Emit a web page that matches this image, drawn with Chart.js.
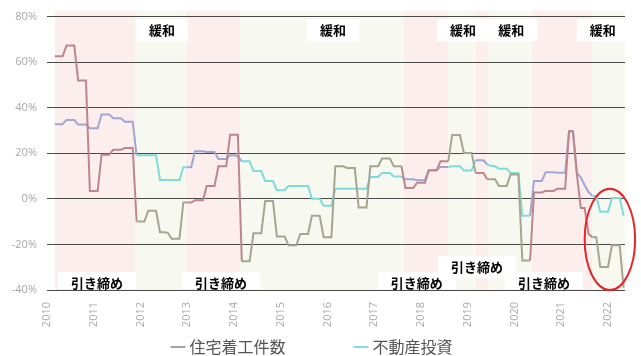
<!DOCTYPE html>
<html><head><meta charset="utf-8">
<script src="https://cdn.jsdelivr.net/npm/chart.js@4/dist/chart.umd.min.js"></script>
<style>html,body{margin:0;padding:0;background:#fff;}#wrap{width:641px;height:356px;}</style>
</head><body><div id="wrap"><canvas id="c" width="641" height="356"></canvas></div>
<script>
// Monthly YoY (%) from 2010-03 to 2022-05
const startYear = 2010, startMonth = 3;
const housingStarts = [
  62.6,62.6,62.6, 67.3,67.3,67.3, 52.0,52.0,52.0, 3.5,3.5,3.5,
  19.4,19.4,19.4, 21.6,21.6,21.6, 22.3,22.3,22.3, -9.9,-9.9,-9.9,
  -5.2,-5.2,-5.2, -14.6,-14.6,-14.9, -17.5,-17.5,-17.5, -1.6,-1.6,-1.6,
  -0.6,-0.6,-0.6, 5.7,5.7,5.7, 14.3,14.3,14.3, 28.1,28.1,28.1,
  -27.4,-27.4,-27.4, -15.1,-15.1,-15.1, -0.9,-0.9,-0.9, -16.5,-16.5,-16.5,
  -20.4,-20.4,-20.4, -15.4,-15.4,-15.4, -7.4,-7.4,-7.4, -16.8,-16.8,-16.8,
  14.3,14.3,14.3, 13.6,13.6,13.6, -3.8,-3.8,-3.8, 14.3,14.3,14.3,
  17.7,17.7,17.7, 14.3,14.3,14.3, 4.8,4.8,4.8, 7.1,7.1,7.1,
  12.5,12.5,12.5, 16.5,16.5,16.5, 28.0,28.0,28.0, 20.1,20.1,20.1,
  11.4,11.4,11.4, 8.6,8.6,8.6, 5.7,5.7,5.7, 10.7,10.7,10.7,
  -27.0,-27.0,-27.0, 2.8,2.8,2.8, 3.5,3.5,3.5, 4.4,4.4,4.4,
  29.7,29.7,11.0, -4.0,-4.0,-15.4, -16.8,-16.8,-29.9, -29.9,-29.9,-20.4,
  -20.4,-20.4,-39.0
];
const realEstateInvestment = [
  32.8,32.8,32.8, 34.6,34.6,34.6, 32.6,32.6,32.6, 31.0,31.0,31.0,
  37.0,37.0,37.0, 35.4,35.4,35.4, 33.9,33.9,33.9, 19.1,19.1,19.1,
  19.1,19.1,19.1, 8.3,8.3,8.3, 8.3,8.3,8.3, 13.9,13.9,13.9,
  20.9,20.9,20.9, 20.6,20.6,20.6, 17.5,17.5,17.5, 19.1,19.1,18.7,
  16.5,16.5,16.5, 12.2,12.2,12.2, 7.8,7.8,7.8, 3.8,3.8,3.8,
  5.7,5.7,5.7, 5.7,5.7,5.7, 0.0,0.0,0.0, -3.0,-3.0,-3.0,
  4.4,4.4,4.4, 4.4,4.4,4.4, 4.4,4.4,4.4, 9.6,9.6,9.6,
  11.4,11.4,11.4, 9.8,9.8,9.8, 8.6,8.6,8.6, 8.2,8.2,8.2,
  12.7,12.7,12.7, 14.0,14.0,14.0, 14.3,14.3,14.3, 12.5,12.5,12.5,
  16.9,16.9,16.9, 15.1,14.5,14.3, 13.2,13.2,13.2, 11.4,11.4,11.4,
  -7.4,-7.4,-7.4, 7.8,7.8,7.8, 11.7,11.7,11.7, 11.5,11.5,11.5,
  29.7,29.7,11.4, 9.5,6.0,3.0, 1.3,1.3,-5.6, -5.6,-5.6,0.4,
  0.4,0.4,-7.4
];
const seriesNames = ['住宅着工件数', '不動産投資'];
const yTicks = [-40, -20, 0, 20, 40, 60, 80];
const xYears = [2010,2011,2012,2013,2014,2015,2016,2017,2018,2019,2020,2021,2022];
// policy periods (fractional years)
const tighteningPeriods = [[2010.17,2011.88],[2012.97,2014.13],[2017.62,2018.58],[2019.16,2019.43],[2020.37,2021.66]];
const easingPeriods = [[2011.88,2012.97],[2014.13,2017.62],[2018.58,2019.16],[2019.43,2020.37],[2021.66,2022.36]];
const easingLabelX = [2012.46, 2016.12, 2018.90, 2019.93, 2021.89];
const easingLabelY = [74, 74, 74, 74, 74];
const tightLabelX = [2011.07, 2013.72, 2017.91, 2019.20, 2020.63];
const tightLabelY = [-37, -37, -37, -30, -37];
const highlight = {x: 2022.04, y: -17.8, rx: 0.54, ry: 22.2};

// month categories -> fractional years
const months = housingStarts.map((_, i) => {
  const t = (startMonth - 1) + i;
  return (startYear + Math.floor(t / 12)) + '-' + String(t % 12 + 1).padStart(2, '0');
});
const toYear = s => { const [y, m] = s.split('-').map(Number); return y + (m - 1) / 12; };
const xs = months.map(toYear);
const xMax = xs[xs.length - 1] + 0.03;

const inTight = v => tighteningPeriods.some(([a, b]) => v >= a && v < b);
const segColor = (normal, tinted) => ctx => {
  const mid = (ctx.p0.parsed.x + ctx.p1.parsed.x) / 2;
  return inTight(mid) ? tinted : normal;
};

const JP = '"Noto Sans CJK JP", "Noto Sans", sans-serif';

const bgPlugin = {
  id: 'bg',
  beforeDraw(chart) {
    const {ctx, chartArea, scales} = chart;
    const x = scales.x;
    ctx.save();
    const fill = (periods, color) => {
      ctx.fillStyle = color;
      periods.forEach(([a, b]) => {
        const l = x.getPixelForValue(a), r = x.getPixelForValue(b);
        ctx.fillRect(l, chartArea.top - 6, r - l, chartArea.bottom - chartArea.top + 6);
      });
    };
    fill(tighteningPeriods, '#fdeeee');
    fill(easingPeriods, '#f7f9f0');
    ctx.restore();
  }
};

const notePlugin = {
  id: 'notes',
  afterDatasetsDraw(chart) {
    const {ctx, chartArea, scales} = chart;
    const x = scales.x, y = scales.y;
    ctx.save();
    ctx.font = 'bold 13px ' + JP;
    ctx.textAlign = 'center';
    ctx.textBaseline = 'middle';
    const draw = (text, xv, yv) => {
      const px = x.getPixelForValue(xv), py = y.getPixelForValue(yv);
      const w = ctx.measureText(text).width + 26;
      let top = py - 11, bot = Math.min(py + 11, chartArea.bottom - 1);
      ctx.fillStyle = '#ffffff';
      ctx.fillRect(px - w / 2, top, w, bot - top);
      ctx.fillStyle = '#000000';
      ctx.fillText(text, px, py);
    };
    easingLabelX.forEach((v, i) => draw('緩和', v, easingLabelY[i]));
    tightLabelX.forEach((v, i) => draw('引き締め', v, tightLabelY[i]));
    // highlight ellipse
    const cx = x.getPixelForValue(highlight.x), cy = y.getPixelForValue(highlight.y);
    const rx = Math.abs(x.getPixelForValue(highlight.x + highlight.rx) - cx);
    const ry = Math.abs(y.getPixelForValue(highlight.y + highlight.ry) - cy);
    ctx.beginPath();
    ctx.ellipse(cx, cy, rx, ry, 0, 0, Math.PI * 2);
    ctx.strokeStyle = '#e3262b';
    ctx.lineWidth = 2;
    ctx.stroke();
    ctx.restore();
  }
};

const legendPlugin = {
  id: 'customLegend',
  afterDraw(chart) {
    const {ctx, width} = chart;
    ctx.save();
    ctx.font = '16px ' + JP;
    ctx.textBaseline = 'middle';
    ctx.textAlign = 'left';
    const dash = 15, gap = 4, itemGap = 68;
    const colors = ['#a3a3a3', '#86d9e6'];
    const widths = seriesNames.map(n => ctx.measureText(n).width);
    const total = widths.reduce((s, w) => s + dash + gap + w, 0) + itemGap * (seriesNames.length - 1);
    let px = width / 2 - 9 - total / 2;
    const py = 347;
    seriesNames.forEach((n, i) => {
      ctx.strokeStyle = colors[i];
      ctx.lineWidth = 2;
      ctx.beginPath();
      ctx.moveTo(px, py); ctx.lineTo(px + dash, py);
      ctx.stroke();
      ctx.fillStyle = '#555555';
      ctx.fillText(n, px + dash + gap, py);
      px += dash + gap + widths[i] + itemGap;
    });
    ctx.restore();
  }
};

new Chart(document.getElementById('c'), {
  type: 'line',
  data: {
    datasets: [
      {
        label: seriesNames[0],
        data: xs.map((v, i) => ({x: v, y: housingStarts[i]})),
        borderColor: '#a6a592',
        borderWidth: 2,
        pointRadius: 0,
        tension: 0,
        segment: {borderColor: segColor('#a6a592', '#bd868c')}
      },
      {
        label: seriesNames[1],
        data: xs.map((v, i) => ({x: v, y: realEstateInvestment[i]})),
        borderColor: '#7fdbdb',
        borderWidth: 2,
        pointRadius: 0,
        tension: 0,
        segment: {borderColor: segColor('#7fdbdb', '#9ea6d4')}
      }
    ]
  },
  options: {
    responsive: false,
    animation: false,
    devicePixelRatio: 1,
    layout: {padding: {top: 14, right: 16, bottom: 24, left: 0}},
    plugins: {legend: {display: false}, tooltip: {enabled: false}},
    scales: {
      x: {
        type: 'linear',
        min: startYear,
        max: xMax,
        afterBuildTicks: s => { s.ticks = xYears.map(v => ({value: v})); },
        afterFit: s => { s.height = 42; },
        grid: {display: false},
        border: {display: false},
        ticks: {
          callback: v => String(v),
          minRotation: 90, maxRotation: 90,
          color: '#a8a8a8',
          padding: 4,
          font: {size: 11, family: '"Open Sans", sans-serif'}
        }
      },
      y: {
        min: -40, max: 80,
        afterBuildTicks: s => { s.ticks = yTicks.map(v => ({value: v})); },
        afterFit: s => { s.width = 47; },
        grid: {color: '#4a4a4a', lineWidth: 1, drawTicks: false},
        border: {display: false},
        ticks: {
          callback: v => v + '%',
          color: '#a8a8a8',
          padding: 10,
          font: {size: 11, family: '"Open Sans", sans-serif'}
        }
      }
    }
  },
  plugins: [bgPlugin, notePlugin, legendPlugin]
});
</script></body></html>
